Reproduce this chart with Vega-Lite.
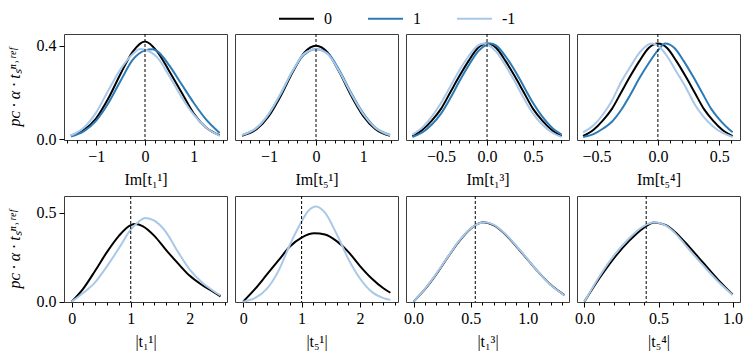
{
"$schema": "https://vega.github.io/schema/vega-lite/v6.json",
"padding": {"left": 5, "top": 0, "right": 5, "bottom": 5},
"config": {
  "font": "Liberation Serif",
  "view": {"stroke": "#3c3c3c", "strokeWidth": 1},
  "axis": {"grid": false, "domain": false, "tickColor": "#000", "tickWidth": 1, "labelColor": "#000", "titleColor": "#000", "labelFontSize": 16, "titleFontSize": 16, "titleFontWeight": "normal", "labelPadding": 3, "titlePadding": 7, "labelOverlap": false, "labelFlush": false},
  "axisY": {"titlePadding": 14, "titleFontStyle": "italic", "tickSize": 5},
  "line": {"strokeWidth": 2, "interpolate": "monotone"}
},
"datasets": {
"a1": [
{"x":-1.52,"y":0.015,"s":"0"},{"x":-1.25,"y":0.04,"s":"0"},{"x":-1.0,"y":0.09,"s":"0"},{"x":-0.75,"y":0.175,"s":"0"},{"x":-0.5,"y":0.28,"s":"0"},{"x":-0.25,"y":0.375,"s":"0"},{"x":0,"y":0.418,"s":"0"},{"x":0.25,"y":0.375,"s":"0"},{"x":0.5,"y":0.29,"s":"0"},{"x":0.75,"y":0.2,"s":"0"},{"x":1.0,"y":0.11,"s":"0"},{"x":1.25,"y":0.05,"s":"0"},{"x":1.53,"y":0.017,"s":"0"},
{"x":-1.52,"y":0.012,"s":"1"},{"x":-1.25,"y":0.035,"s":"1"},{"x":-1.0,"y":0.08,"s":"1"},{"x":-0.75,"y":0.155,"s":"1"},{"x":-0.5,"y":0.25,"s":"1"},{"x":-0.25,"y":0.34,"s":"1"},{"x":0,"y":0.38,"s":"1"},{"x":0.15,"y":0.385,"s":"1"},{"x":0.25,"y":0.377,"s":"1"},{"x":0.5,"y":0.315,"s":"1"},{"x":0.75,"y":0.235,"s":"1"},{"x":1.0,"y":0.155,"s":"1"},{"x":1.25,"y":0.085,"s":"1"},{"x":1.53,"y":0.027,"s":"1"},
{"x":-1.52,"y":0.016,"s":"-1"},{"x":-1.25,"y":0.05,"s":"-1"},{"x":-1.0,"y":0.115,"s":"-1"},{"x":-0.75,"y":0.21,"s":"-1"},{"x":-0.5,"y":0.3,"s":"-1"},{"x":-0.25,"y":0.365,"s":"-1"},{"x":-0.1,"y":0.386,"s":"-1"},{"x":0,"y":0.383,"s":"-1"},{"x":0.25,"y":0.35,"s":"-1"},{"x":0.5,"y":0.27,"s":"-1"},{"x":0.75,"y":0.18,"s":"-1"},{"x":1.0,"y":0.105,"s":"-1"},{"x":1.25,"y":0.05,"s":"-1"},{"x":1.53,"y":0.015,"s":"-1"}
],
"a2": [
{"x":-1.57,"y":0.015,"s":"0"},{"x":-1.25,"y":0.045,"s":"0"},{"x":-1.0,"y":0.1,"s":"0"},{"x":-0.75,"y":0.185,"s":"0"},{"x":-0.5,"y":0.285,"s":"0"},{"x":-0.25,"y":0.37,"s":"0"},{"x":0,"y":0.4,"s":"0"},{"x":0.25,"y":0.37,"s":"0"},{"x":0.5,"y":0.285,"s":"0"},{"x":0.75,"y":0.185,"s":"0"},{"x":1.0,"y":0.1,"s":"0"},{"x":1.25,"y":0.045,"s":"0"},{"x":1.57,"y":0.015,"s":"0"},
{"x":-1.57,"y":0.018,"s":"1"},{"x":-1.25,"y":0.05,"s":"1"},{"x":-1.0,"y":0.108,"s":"1"},{"x":-0.75,"y":0.193,"s":"1"},{"x":-0.5,"y":0.29,"s":"1"},{"x":-0.25,"y":0.362,"s":"1"},{"x":0,"y":0.385,"s":"1"},{"x":0.25,"y":0.367,"s":"1"},{"x":0.5,"y":0.293,"s":"1"},{"x":0.75,"y":0.197,"s":"1"},{"x":1.0,"y":0.112,"s":"1"},{"x":1.25,"y":0.052,"s":"1"},{"x":1.57,"y":0.019,"s":"1"},
{"x":-1.57,"y":0.018,"s":"-1"},{"x":-1.25,"y":0.051,"s":"-1"},{"x":-1.0,"y":0.11,"s":"-1"},{"x":-0.75,"y":0.196,"s":"-1"},{"x":-0.5,"y":0.292,"s":"-1"},{"x":-0.25,"y":0.366,"s":"-1"},{"x":0,"y":0.385,"s":"-1"},{"x":0.25,"y":0.363,"s":"-1"},{"x":0.5,"y":0.288,"s":"-1"},{"x":0.75,"y":0.193,"s":"-1"},{"x":1.0,"y":0.108,"s":"-1"},{"x":1.25,"y":0.05,"s":"-1"},{"x":1.57,"y":0.017,"s":"-1"}
],
"a3": [
{"x":-0.81,"y":0.014,"s":"0"},{"x":-0.7,"y":0.041,"s":"0"},{"x":-0.6,"y":0.08,"s":"0"},{"x":-0.5,"y":0.13,"s":"0"},{"x":-0.4,"y":0.2,"s":"0"},{"x":-0.3,"y":0.27,"s":"0"},{"x":-0.2,"y":0.335,"s":"0"},{"x":-0.1,"y":0.39,"s":"0"},{"x":0,"y":0.409,"s":"0"},{"x":0.1,"y":0.39,"s":"0"},{"x":0.2,"y":0.335,"s":"0"},{"x":0.3,"y":0.27,"s":"0"},{"x":0.4,"y":0.2,"s":"0"},{"x":0.5,"y":0.13,"s":"0"},{"x":0.6,"y":0.08,"s":"0"},{"x":0.7,"y":0.041,"s":"0"},{"x":0.81,"y":0.014,"s":"0"},
{"x":-0.81,"y":0.01,"s":"1"},{"x":-0.7,"y":0.03,"s":"1"},{"x":-0.6,"y":0.063,"s":"1"},{"x":-0.5,"y":0.11,"s":"1"},{"x":-0.4,"y":0.175,"s":"1"},{"x":-0.3,"y":0.248,"s":"1"},{"x":-0.2,"y":0.315,"s":"1"},{"x":-0.1,"y":0.375,"s":"1"},{"x":0,"y":0.405,"s":"1"},{"x":0.035,"y":0.409,"s":"1"},{"x":0.1,"y":0.4,"s":"1"},{"x":0.2,"y":0.355,"s":"1"},{"x":0.3,"y":0.295,"s":"1"},{"x":0.4,"y":0.225,"s":"1"},{"x":0.5,"y":0.155,"s":"1"},{"x":0.6,"y":0.097,"s":"1"},{"x":0.7,"y":0.052,"s":"1"},{"x":0.81,"y":0.02,"s":"1"},
{"x":-0.81,"y":0.02,"s":"-1"},{"x":-0.7,"y":0.052,"s":"-1"},{"x":-0.6,"y":0.097,"s":"-1"},{"x":-0.5,"y":0.155,"s":"-1"},{"x":-0.4,"y":0.225,"s":"-1"},{"x":-0.3,"y":0.295,"s":"-1"},{"x":-0.2,"y":0.355,"s":"-1"},{"x":-0.1,"y":0.4,"s":"-1"},{"x":-0.035,"y":0.409,"s":"-1"},{"x":0,"y":0.405,"s":"-1"},{"x":0.1,"y":0.375,"s":"-1"},{"x":0.2,"y":0.315,"s":"-1"},{"x":0.3,"y":0.248,"s":"-1"},{"x":0.4,"y":0.175,"s":"-1"},{"x":0.5,"y":0.11,"s":"-1"},{"x":0.6,"y":0.063,"s":"-1"},{"x":0.7,"y":0.03,"s":"-1"},{"x":0.81,"y":0.01,"s":"-1"}
],
"a4": [
{"x":-0.61,"y":0.014,"s":"0"},{"x":-0.525,"y":0.041,"s":"0"},{"x":-0.45,"y":0.08,"s":"0"},{"x":-0.375,"y":0.13,"s":"0"},{"x":-0.3,"y":0.2,"s":"0"},{"x":-0.225,"y":0.27,"s":"0"},{"x":-0.15,"y":0.335,"s":"0"},{"x":-0.075,"y":0.39,"s":"0"},{"x":0,"y":0.409,"s":"0"},{"x":0.075,"y":0.39,"s":"0"},{"x":0.15,"y":0.335,"s":"0"},{"x":0.225,"y":0.27,"s":"0"},{"x":0.3,"y":0.2,"s":"0"},{"x":0.375,"y":0.13,"s":"0"},{"x":0.45,"y":0.08,"s":"0"},{"x":0.525,"y":0.041,"s":"0"},{"x":0.61,"y":0.014,"s":"0"},
{"x":-0.61,"y":0.01,"s":"1"},{"x":-0.525,"y":0.022,"s":"1"},{"x":-0.45,"y":0.045,"s":"1"},{"x":-0.375,"y":0.075,"s":"1"},{"x":-0.3,"y":0.125,"s":"1"},{"x":-0.225,"y":0.19,"s":"1"},{"x":-0.15,"y":0.262,"s":"1"},{"x":-0.075,"y":0.325,"s":"1"},{"x":0,"y":0.38,"s":"1"},{"x":0.06,"y":0.409,"s":"1"},{"x":0.135,"y":0.39,"s":"1"},{"x":0.21,"y":0.335,"s":"1"},{"x":0.285,"y":0.27,"s":"1"},{"x":0.36,"y":0.2,"s":"1"},{"x":0.435,"y":0.13,"s":"1"},{"x":0.51,"y":0.08,"s":"1"},{"x":0.585,"y":0.041,"s":"1"},{"x":0.61,"y":0.03,"s":"1"},
{"x":-0.61,"y":0.03,"s":"-1"},{"x":-0.525,"y":0.06,"s":"-1"},{"x":-0.45,"y":0.105,"s":"-1"},{"x":-0.375,"y":0.165,"s":"-1"},{"x":-0.3,"y":0.245,"s":"-1"},{"x":-0.225,"y":0.31,"s":"-1"},{"x":-0.15,"y":0.37,"s":"-1"},{"x":-0.05,"y":0.409,"s":"-1"},{"x":0,"y":0.4,"s":"-1"},{"x":0.075,"y":0.355,"s":"-1"},{"x":0.15,"y":0.29,"s":"-1"},{"x":0.225,"y":0.225,"s":"-1"},{"x":0.3,"y":0.15,"s":"-1"},{"x":0.375,"y":0.095,"s":"-1"},{"x":0.45,"y":0.055,"s":"-1"},{"x":0.525,"y":0.028,"s":"-1"},{"x":0.61,"y":0.01,"s":"-1"}
],
"b1": [
{"x":0,"y":0,"s":"0"},{"x":0.2,"y":0.075,"s":"0"},{"x":0.4,"y":0.175,"s":"0"},{"x":0.6,"y":0.28,"s":"0"},{"x":0.8,"y":0.37,"s":"0"},{"x":1.0,"y":0.43,"s":"0"},{"x":1.08,"y":0.436,"s":"0"},{"x":1.2,"y":0.425,"s":"0"},{"x":1.4,"y":0.37,"s":"0"},{"x":1.6,"y":0.29,"s":"0"},{"x":1.8,"y":0.215,"s":"0"},{"x":2.0,"y":0.145,"s":"0"},{"x":2.2,"y":0.095,"s":"0"},{"x":2.4,"y":0.055,"s":"0"},{"x":2.52,"y":0.03,"s":"0"},
{"x":0,"y":0,"s":"-1"},{"x":0.2,"y":0.05,"s":"-1"},{"x":0.4,"y":0.11,"s":"-1"},{"x":0.6,"y":0.2,"s":"-1"},{"x":0.8,"y":0.3,"s":"-1"},{"x":1.0,"y":0.405,"s":"-1"},{"x":1.1,"y":0.44,"s":"-1"},{"x":1.25,"y":0.47,"s":"-1"},{"x":1.4,"y":0.455,"s":"-1"},{"x":1.6,"y":0.39,"s":"-1"},{"x":1.8,"y":0.28,"s":"-1"},{"x":2.0,"y":0.18,"s":"-1"},{"x":2.2,"y":0.11,"s":"-1"},{"x":2.4,"y":0.06,"s":"-1"},{"x":2.52,"y":0.035,"s":"-1"}
],
"b2": [
{"x":0,"y":0,"s":"0"},{"x":0.2,"y":0.07,"s":"0"},{"x":0.4,"y":0.15,"s":"0"},{"x":0.6,"y":0.23,"s":"0"},{"x":0.8,"y":0.31,"s":"0"},{"x":1.0,"y":0.36,"s":"0"},{"x":1.22,"y":0.384,"s":"0"},{"x":1.4,"y":0.377,"s":"0"},{"x":1.6,"y":0.34,"s":"0"},{"x":1.8,"y":0.28,"s":"0"},{"x":2.0,"y":0.2,"s":"0"},{"x":2.2,"y":0.13,"s":"0"},{"x":2.4,"y":0.075,"s":"0"},{"x":2.52,"y":0.05,"s":"0"},
{"x":0,"y":0,"s":"-1"},{"x":0.2,"y":0.02,"s":"-1"},{"x":0.4,"y":0.07,"s":"-1"},{"x":0.6,"y":0.17,"s":"-1"},{"x":0.8,"y":0.32,"s":"-1"},{"x":1.0,"y":0.45,"s":"-1"},{"x":1.1,"y":0.505,"s":"-1"},{"x":1.25,"y":0.535,"s":"-1"},{"x":1.4,"y":0.5,"s":"-1"},{"x":1.6,"y":0.38,"s":"-1"},{"x":1.8,"y":0.24,"s":"-1"},{"x":2.0,"y":0.13,"s":"-1"},{"x":2.2,"y":0.055,"s":"-1"},{"x":2.4,"y":0.02,"s":"-1"},{"x":2.52,"y":0.01,"s":"-1"}
],
"b3": [
{"x":0,"y":0,"s":"0"},{"x":0.1,"y":0.07,"s":"0"},{"x":0.2,"y":0.155,"s":"0"},{"x":0.3,"y":0.25,"s":"0"},{"x":0.4,"y":0.34,"s":"0"},{"x":0.5,"y":0.41,"s":"0"},{"x":0.61,"y":0.446,"s":"0"},{"x":0.7,"y":0.43,"s":"0"},{"x":0.8,"y":0.38,"s":"0"},{"x":0.9,"y":0.31,"s":"0"},{"x":1.0,"y":0.235,"s":"0"},{"x":1.1,"y":0.16,"s":"0"},{"x":1.2,"y":0.095,"s":"0"},{"x":1.32,"y":0.037,"s":"0"},
{"x":0,"y":0,"s":"-1"},{"x":0.1,"y":0.072,"s":"-1"},{"x":0.2,"y":0.158,"s":"-1"},{"x":0.3,"y":0.252,"s":"-1"},{"x":0.4,"y":0.343,"s":"-1"},{"x":0.5,"y":0.412,"s":"-1"},{"x":0.62,"y":0.447,"s":"-1"},{"x":0.7,"y":0.433,"s":"-1"},{"x":0.8,"y":0.383,"s":"-1"},{"x":0.9,"y":0.313,"s":"-1"},{"x":1.0,"y":0.237,"s":"-1"},{"x":1.1,"y":0.16,"s":"-1"},{"x":1.2,"y":0.094,"s":"-1"},{"x":1.32,"y":0.036,"s":"-1"}
],
"b4": [
{"x":0,"y":0,"s":"0"},{"x":0.1,"y":0.13,"s":"0"},{"x":0.2,"y":0.245,"s":"0"},{"x":0.3,"y":0.34,"s":"0"},{"x":0.4,"y":0.415,"s":"0"},{"x":0.47,"y":0.445,"s":"0"},{"x":0.55,"y":0.43,"s":"0"},{"x":0.6,"y":0.4,"s":"0"},{"x":0.65,"y":0.36,"s":"0"},{"x":0.7,"y":0.315,"s":"0"},{"x":0.8,"y":0.22,"s":"0"},{"x":0.9,"y":0.125,"s":"0"},{"x":1.0,"y":0.04,"s":"0"},
{"x":0,"y":0,"s":"-1"},{"x":0.1,"y":0.14,"s":"-1"},{"x":0.2,"y":0.26,"s":"-1"},{"x":0.3,"y":0.355,"s":"-1"},{"x":0.4,"y":0.425,"s":"-1"},{"x":0.47,"y":0.446,"s":"-1"},{"x":0.55,"y":0.428,"s":"-1"},{"x":0.6,"y":0.395,"s":"-1"},{"x":0.65,"y":0.35,"s":"-1"},{"x":0.7,"y":0.3,"s":"-1"},{"x":0.8,"y":0.205,"s":"-1"},{"x":0.9,"y":0.115,"s":"-1"},{"x":1.0,"y":0.038,"s":"-1"}
]
},
"columns": 4,
"spacing": {"row": 56, "column": 8},
"bounds": "flush",
"concat": [
 {"width":163,"height":106,"layer":[
  {"data":{"name":"a1"},"mark":"line","encoding":{
   "x":{"field":"x","type":"quantitative","scale":{"domain":[-1.66,1.68],"nice":false,"zero":false},"axis":{"title":"Im[t₁¹]","tickCount":100,"values":[-1.6,-1.4,-1.2,-1,-0.8,-0.6,-0.4,-0.2,0,0.2,0.4,0.6,0.8,1,1.2,1.4,1.6],"labelExpr":"abs(datum.value - round(datum.value)) < 0.000001 ? format(datum.value, 'd') : ''","tickSize":{"condition":{"test":"abs(datum.value - round(datum.value)) < 0.000001","value":5},"value":3}}},
   "y":{"field":"y","type":"quantitative","scale":{"domain":[-0.003,0.45],"nice":false},"axis":{"title":"pᴄ · α · tₛⁿ˒ʳᵉᶠ","values":[0,0.4],"format":".1f"}},
   "color":{"field":"s","type":"nominal","title":null,"scale":{"domain":["0","1","-1"],"range":["#000000","#2c7bb6","#a9c8e8"]},"legend":{"orient":"none","direction":"horizontal","legendX":214,"legendY":-34,"symbolType":"stroke","symbolSize":1225,"symbolStrokeWidth":2,"labelFontSize":16,"labelOffset":9,"columnPadding":26,"gridAlign":"all","labelColor":"#000"}}}},
  {"data":{"values":[{"x":0}]},"mark":{"type":"rule","strokeDash":[3,2],"color":"#000","strokeWidth":1},"encoding":{"x":{"field":"x","type":"quantitative"}}}
 ]},
 {"width":163,"height":106,"layer":[
  {"data":{"name":"a2"},"mark":"line","encoding":{
   "x":{"field":"x","type":"quantitative","scale":{"domain":[-1.72,1.74],"nice":false,"zero":false},"axis":{"title":"Im[t₅¹]","tickCount":100,"values":[-1.6,-1.4,-1.2,-1,-0.8,-0.6,-0.4,-0.2,0,0.2,0.4,0.6,0.8,1,1.2,1.4,1.6],"labelExpr":"abs(datum.value - round(datum.value)) < 0.000001 ? format(datum.value, 'd') : ''","tickSize":{"condition":{"test":"abs(datum.value - round(datum.value)) < 0.000001","value":5},"value":3}}},
   "y":{"field":"y","type":"quantitative","scale":{"domain":[-0.003,0.45],"nice":false},"axis":null},
   "color":{"field":"s","type":"nominal","title":null,"scale":{"domain":["0","1","-1"],"range":["#000000","#2c7bb6","#a9c8e8"]},"legend":null}}},
  {"data":{"values":[{"x":0}]},"mark":{"type":"rule","strokeDash":[3,2],"color":"#000","strokeWidth":1},"encoding":{"x":{"field":"x","type":"quantitative"}}}
 ]},
 {"width":163,"height":106,"layer":[
  {"data":{"name":"a3"},"mark":"line","encoding":{
   "x":{"field":"x","type":"quantitative","scale":{"domain":[-0.88,0.89],"nice":false,"zero":false},"axis":{"title":"Im[t₁³]","tickCount":100,"values":[-0.8,-0.7,-0.6,-0.5,-0.4,-0.3,-0.2,-0.1,0,0.1,0.2,0.3,0.4,0.5,0.6,0.7,0.8],"labelExpr":"abs(datum.value*2 - round(datum.value*2)) < 0.000001 ? format(datum.value, '.1f') : ''","tickSize":{"condition":{"test":"abs(datum.value*2 - round(datum.value*2)) < 0.000001","value":5},"value":3}}},
   "y":{"field":"y","type":"quantitative","scale":{"domain":[-0.003,0.45],"nice":false},"axis":null},
   "color":{"field":"s","type":"nominal","title":null,"scale":{"domain":["0","1","-1"],"range":["#000000","#2c7bb6","#a9c8e8"]},"legend":null}}},
  {"data":{"values":[{"x":0}]},"mark":{"type":"rule","strokeDash":[3,2],"color":"#000","strokeWidth":1},"encoding":{"x":{"field":"x","type":"quantitative"}}}
 ]},
 {"width":163,"height":106,"layer":[
  {"data":{"name":"a4"},"mark":"line","encoding":{
   "x":{"field":"x","type":"quantitative","scale":{"domain":[-0.66,0.67],"nice":false,"zero":false},"axis":{"title":"Im[t₅⁴]","tickCount":100,"values":[-0.6,-0.5,-0.4,-0.3,-0.2,-0.1,0,0.1,0.2,0.3,0.4,0.5,0.6],"labelExpr":"abs(datum.value*2 - round(datum.value*2)) < 0.000001 ? format(datum.value, '.1f') : ''","tickSize":{"condition":{"test":"abs(datum.value*2 - round(datum.value*2)) < 0.000001","value":5},"value":3}}},
   "y":{"field":"y","type":"quantitative","scale":{"domain":[-0.003,0.45],"nice":false},"axis":null},
   "color":{"field":"s","type":"nominal","title":null,"scale":{"domain":["0","1","-1"],"range":["#000000","#2c7bb6","#a9c8e8"]},"legend":null}}},
  {"data":{"values":[{"x":0}]},"mark":{"type":"rule","strokeDash":[3,2],"color":"#000","strokeWidth":1},"encoding":{"x":{"field":"x","type":"quantitative"}}}
 ]},
 {"width":163,"height":106,"layer":[
  {"data":{"name":"b1"},"mark":"line","encoding":{
   "x":{"field":"x","type":"quantitative","scale":{"domain":[-0.13,2.63],"nice":false,"zero":false},"axis":{"title":"|t₁¹|","tickCount":100,"values":[0,0.2,0.4,0.6,0.8,1,1.2,1.4,1.6,1.8,2,2.2,2.4,2.6],"labelExpr":"abs(datum.value - round(datum.value)) < 0.000001 ? format(datum.value, 'd') : ''","tickSize":{"condition":{"test":"abs(datum.value - round(datum.value)) < 0.000001","value":5},"value":3}}},
   "y":{"field":"y","type":"quantitative","scale":{"domain":[-0.002,0.594],"nice":false},"axis":{"title":"pᴄ · α · tₛⁿ˒ʳᵉᶠ","values":[0,0.5],"format":".1f"}},
   "color":{"field":"s","type":"nominal","title":null,"scale":{"domain":["0","1","-1"],"range":["#000000","#2c7bb6","#a9c8e8"]},"legend":null}}},
  {"data":{"values":[{"x":1}]},"mark":{"type":"rule","strokeDash":[3,2],"color":"#000","strokeWidth":1},"encoding":{"x":{"field":"x","type":"quantitative"}}}
 ]},
 {"width":163,"height":106,"layer":[
  {"data":{"name":"b2"},"mark":"line","encoding":{
   "x":{"field":"x","type":"quantitative","scale":{"domain":[-0.14,2.65],"nice":false,"zero":false},"axis":{"title":"|t₅¹|","tickCount":100,"values":[0,0.2,0.4,0.6,0.8,1,1.2,1.4,1.6,1.8,2,2.2,2.4,2.6],"labelExpr":"abs(datum.value - round(datum.value)) < 0.000001 ? format(datum.value, 'd') : ''","tickSize":{"condition":{"test":"abs(datum.value - round(datum.value)) < 0.000001","value":5},"value":3}}},
   "y":{"field":"y","type":"quantitative","scale":{"domain":[-0.002,0.594],"nice":false},"axis":null},
   "color":{"field":"s","type":"nominal","title":null,"scale":{"domain":["0","1","-1"],"range":["#000000","#2c7bb6","#a9c8e8"]},"legend":null}}},
  {"data":{"values":[{"x":1}]},"mark":{"type":"rule","strokeDash":[3,2],"color":"#000","strokeWidth":1},"encoding":{"x":{"field":"x","type":"quantitative"}}}
 ]},
 {"width":163,"height":106,"layer":[
  {"data":{"name":"b3"},"mark":"line","encoding":{
   "x":{"field":"x","type":"quantitative","scale":{"domain":[-0.066,1.36],"nice":false,"zero":false},"axis":{"title":"|t₁³|","tickCount":100,"values":[0,0.1,0.2,0.3,0.4,0.5,0.6,0.7,0.8,0.9,1,1.1,1.2,1.3],"labelExpr":"abs(datum.value*2 - round(datum.value*2)) < 0.000001 ? format(datum.value, '.1f') : ''","tickSize":{"condition":{"test":"abs(datum.value*2 - round(datum.value*2)) < 0.000001","value":5},"value":3}}},
   "y":{"field":"y","type":"quantitative","scale":{"domain":[-0.002,0.594],"nice":false},"axis":null},
   "color":{"field":"s","type":"nominal","title":null,"scale":{"domain":["0","1","-1"],"range":["#000000","#2c7bb6","#a9c8e8"]},"legend":null}}},
  {"data":{"values":[{"x":0.54}]},"mark":{"type":"rule","strokeDash":[3,2],"color":"#000","strokeWidth":1},"encoding":{"x":{"field":"x","type":"quantitative"}}}
 ]},
 {"width":163,"height":106,"layer":[
  {"data":{"name":"b4"},"mark":"line","encoding":{
   "x":{"field":"x","type":"quantitative","scale":{"domain":[-0.05,1.05],"nice":false,"zero":false},"axis":{"title":"|t₅⁴|","tickCount":100,"values":[0,0.1,0.2,0.3,0.4,0.5,0.6,0.7,0.8,0.9,1],"labelExpr":"abs(datum.value*2 - round(datum.value*2)) < 0.000001 ? format(datum.value, '.1f') : ''","tickSize":{"condition":{"test":"abs(datum.value*2 - round(datum.value*2)) < 0.000001","value":5},"value":3}}},
   "y":{"field":"y","type":"quantitative","scale":{"domain":[-0.002,0.594],"nice":false},"axis":null},
   "color":{"field":"s","type":"nominal","title":null,"scale":{"domain":["0","1","-1"],"range":["#000000","#2c7bb6","#a9c8e8"]},"legend":null}}},
  {"data":{"values":[{"x":0.417}]},"mark":{"type":"rule","strokeDash":[3,2],"color":"#000","strokeWidth":1},"encoding":{"x":{"field":"x","type":"quantitative"}}}
 ]}
]
}
